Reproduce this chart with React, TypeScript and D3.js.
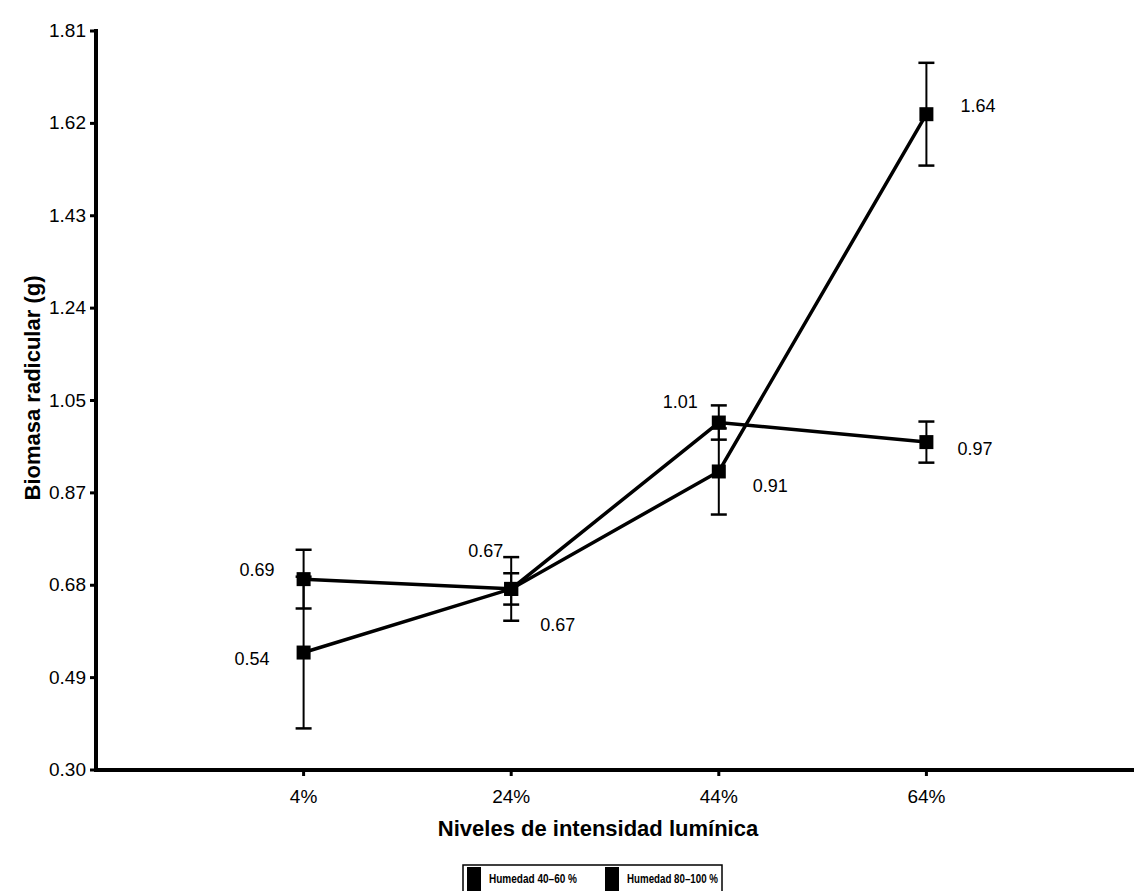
import React from "react";
import * as d3 from "d3";

const categories = ["4%", "24%", "44%", "64%"];
const yTicks = [0.30, 0.49, 0.68, 0.87, 1.05, 1.24, 1.43, 1.62, 1.81];
const seriesNames = ["Humedad 40–60 %", "Humedad 80–100 %"];
const seriesA = [0.69, 0.67, 1.01, 0.97];
const errorsA = [0.06, 0.032, 0.035, 0.042];
const seriesB = [0.54, 0.67, 0.91, 1.64];
const errorsB = [0.155, 0.065, 0.088, 0.105];

const W = 1134, H = 891;
const x0 = 96, x1 = 1134, yTop = 31, yBot = 770;

export default function App() {
  const x = d3.scaleLinear().domain([0, 5]).range([x0, x1]);
  const y = d3.scaleLinear().domain([0.30, 1.81]).range([yBot, yTop]);
  const tickVals = d3.range(9).map(i => 0.30 + (i * 1.51) / 8);
  const line = d3.line<number>().x((_, i) => x(i + 1)).y(d => y(d));
  const font = "Liberation Sans, Arial, sans-serif";

  const labelA = [
    { dx: -29, dy: -3, anchor: "end" },
    { dx: -8, dy: -32, anchor: "end" },
    { dx: -21, dy: -15, anchor: "end" },
    { dx: 31, dy: 13, anchor: "start" },
  ];
  const labelB = [
    { dx: -34, dy: 12, anchor: "end" },
    { dx: 29, dy: 42, anchor: "start" },
    { dx: 34, dy: 21, anchor: "start" },
    { dx: 34, dy: -2, anchor: "start" },
  ];

  const renderSeries = (vals: number[], errs: number[], labels: any[]) => (
    <g>
      <path d={line(vals) || ""} fill="none" stroke="#000" strokeWidth={3.5} />
      {vals.map((v, i) => (
        <g key={i}>
          <line x1={x(i + 1)} x2={x(i + 1)} y1={y(v + errs[i])} y2={y(v - errs[i])} stroke="#000" strokeWidth={2} />
          <line x1={x(i + 1) - 8} x2={x(i + 1) + 8} y1={y(v + errs[i])} y2={y(v + errs[i])} stroke="#000" strokeWidth={2.5} />
          <line x1={x(i + 1) - 8} x2={x(i + 1) + 8} y1={y(v - errs[i])} y2={y(v - errs[i])} stroke="#000" strokeWidth={2.5} />
        </g>
      ))}
      {vals.map((v, i) => (
        <rect key={"m" + i} x={x(i + 1) - 7} y={y(v) - 7} width={14} height={14} fill="#000" />
      ))}
      {vals.map((v, i) => (
        <text key={"t" + i} x={x(i + 1) + labels[i].dx} y={y(v) + labels[i].dy} textAnchor={labels[i].anchor}
          fontFamily={font} fontSize={18}>{v.toFixed(2)}</text>
      ))}
    </g>
  );

  return (
    <svg width={W} height={H} style={{ position: "absolute", left: 0, top: 0, background: "#fff" }}>
      <rect width={W} height={H} fill="#fff" />
      <line x1={x0} x2={x0} y1={yTop - 2} y2={yBot + 2} stroke="#000" strokeWidth={4} />
      <line x1={x0 - 2} x2={x1} y1={yBot} y2={yBot} stroke="#000" strokeWidth={4} />
      {tickVals.map((t, i) => (
        <g key={i}>
          <line x1={x0 - 6} x2={x0} y1={y(t)} y2={y(t)} stroke="#000" strokeWidth={3} />
          <text x={x0 - 10} y={y(t) + 6} textAnchor="end" fontFamily={font} fontSize={19}>{yTicks[i].toFixed(2)}</text>
        </g>
      ))}
      {categories.map((c, i) => (
        <g key={c}>
          <line x1={x(i + 1)} x2={x(i + 1)} y1={yBot} y2={yBot + 6} stroke="#000" strokeWidth={3} />
          <text x={x(i + 1)} y={yBot + 33} textAnchor="middle" fontFamily={font} fontSize={19}>{c}</text>
        </g>
      ))}
      <text x={598} y={836} textAnchor="middle" fontFamily={font} fontSize={22} fontWeight="bold">Niveles de intensidad lumínica</text>
      <text transform={`translate(40,388) rotate(-90)`} textAnchor="middle" fontFamily={font} fontSize={22} fontWeight="bold">Biomasa radicular (g)</text>
      {renderSeries(seriesA, errorsA, labelA)}
      {renderSeries(seriesB, errorsB, labelB)}
      <rect x={463} y={865} width={259} height={30} fill="#fff" stroke="#000" strokeWidth={1.5} />
      {seriesNames.map((n, i) => (
        <g key={n}>
          <rect x={467 + i * 138} y={867} width={14} height={24} fill="#000" />
          <text x={489 + i * 138} y={883} fontFamily={font} fontSize={12.5} fontWeight="bold"
            textLength={i === 0 ? 88 : 91} lengthAdjust="spacingAndGlyphs">{n}</text>
        </g>
      ))}
    </svg>
  );
}
